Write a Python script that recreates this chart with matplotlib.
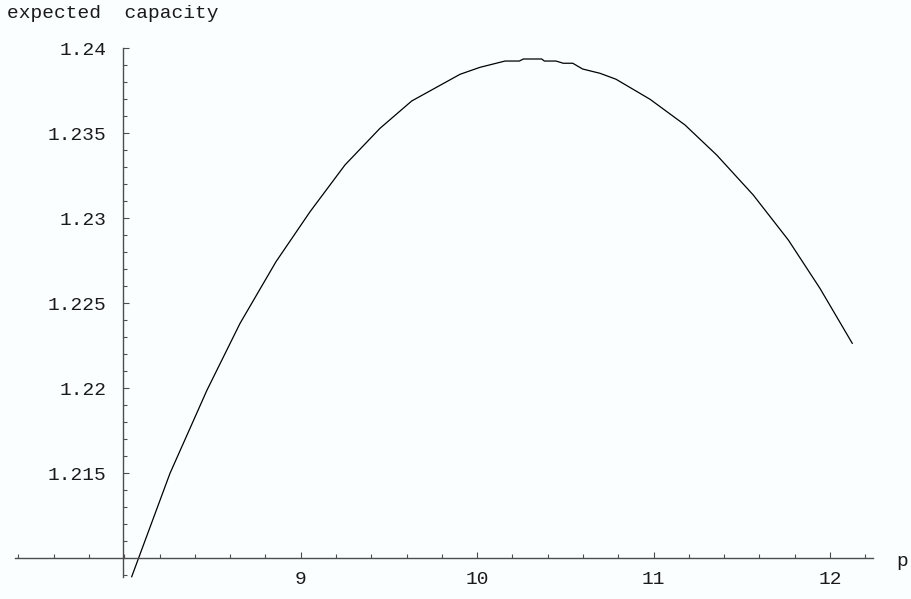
import numpy as np
import matplotlib
matplotlib.use("Agg")
import matplotlib.pyplot as plt
from matplotlib.ticker import FixedLocator, FixedFormatter, NullFormatter

# curve (p, expected capacity)
p = [8.042, 8.259, 8.469, 8.656, 8.860, 9.053, 9.251, 9.449, 9.629, 9.903,
     10.016, 10.158, 10.239, 10.262, 10.366, 10.381, 10.447, 10.488, 10.542,
     10.598, 10.696, 10.787, 10.980, 11.178, 11.358, 11.565, 11.764, 11.943,
     12.126]
capacity = [1.20892, 1.21500, 1.21990, 1.22382, 1.22745, 1.23039, 1.23314,
            1.23529, 1.23690, 1.23847, 1.23888, 1.23925, 1.23925, 1.23937,
            1.23937, 1.23925, 1.23925, 1.23912, 1.23912, 1.23878, 1.23853,
            1.23818, 1.23700, 1.23549, 1.23372, 1.23137, 1.22872, 1.22588,
            1.22265]

x_major = [9, 10, 11, 12]
x_labels = ["9", "10", "11", "12"]
y_major = [1.215, 1.22, 1.225, 1.23, 1.235, 1.24]
y_labels = ["1.215", "1.22", "1.225", "1.23", "1.235", "1.24"]
x_minor = np.round(np.arange(7.4, 12.21, 0.2), 3)
y_minor = np.round(np.arange(1.209, 1.2401, 0.001), 4)

font = "Liberation Mono"
bg = "#fafefe"
axcol = "#4d4d4d"
txtcol = "#1a1a1a"

fig = plt.figure(figsize=(9.11, 5.99), dpi=100, facecolor=bg)
ax = fig.add_axes([0, 0, 1, 1], facecolor=bg)

ax.plot(p, capacity, color="black", lw=0.9)

ax.set_xlim(7.2956, 12.459)
ax.set_ylim(1.20761, 1.24284)

for s in ["top", "right"]:
    ax.spines[s].set_visible(False)
ax.spines["left"].set_position(("data", 7.993))
ax.spines["left"].set_bounds(1.2089, 1.24)
ax.spines["bottom"].set_position(("data", 1.21))
ax.spines["bottom"].set_bounds(7.38, 12.245)
for s in ["left", "bottom"]:
    ax.spines[s].set_color(axcol)
    ax.spines[s].set_linewidth(1.0)

ax.xaxis.set_major_locator(FixedLocator(x_major))
ax.xaxis.set_major_formatter(FixedFormatter(x_labels))
ax.xaxis.set_minor_locator(FixedLocator(x_minor))
ax.xaxis.set_minor_formatter(NullFormatter())
ax.yaxis.set_major_locator(FixedLocator(y_major))
ax.yaxis.set_major_formatter(FixedFormatter(y_labels))
ax.yaxis.set_minor_locator(FixedLocator(y_minor))
ax.yaxis.set_minor_formatter(NullFormatter())

ax.tick_params(axis="x", which="major", direction="in", length=4.3, width=0.8,
               color=axcol, pad=9, labelsize=14, labelcolor=txtcol)
ax.tick_params(axis="x", which="minor", direction="in", length=2.6, width=0.8,
               color=axcol)
ax.tick_params(axis="y", which="major", direction="in", length=4.3, width=0.8,
               color=axcol, pad=12, labelsize=14, labelcolor=txtcol)
ax.tick_params(axis="y", which="minor", direction="in", length=3.1, width=0.8,
               color=axcol)
for lab in ax.get_xticklabels() + ax.get_yticklabels():
    lab.set_fontfamily(font)

fig.text(7 / 911, 1 - 18 / 599, "expected  capacity", family=font,
         fontsize=14, va="baseline", ha="left", color=txtcol)
fig.text(896 / 911, 1 - 566 / 599, "p", family=font, fontsize=14,
         va="baseline", ha="left", color=txtcol)

fig.savefig("out.png", dpi=100, facecolor=bg)
